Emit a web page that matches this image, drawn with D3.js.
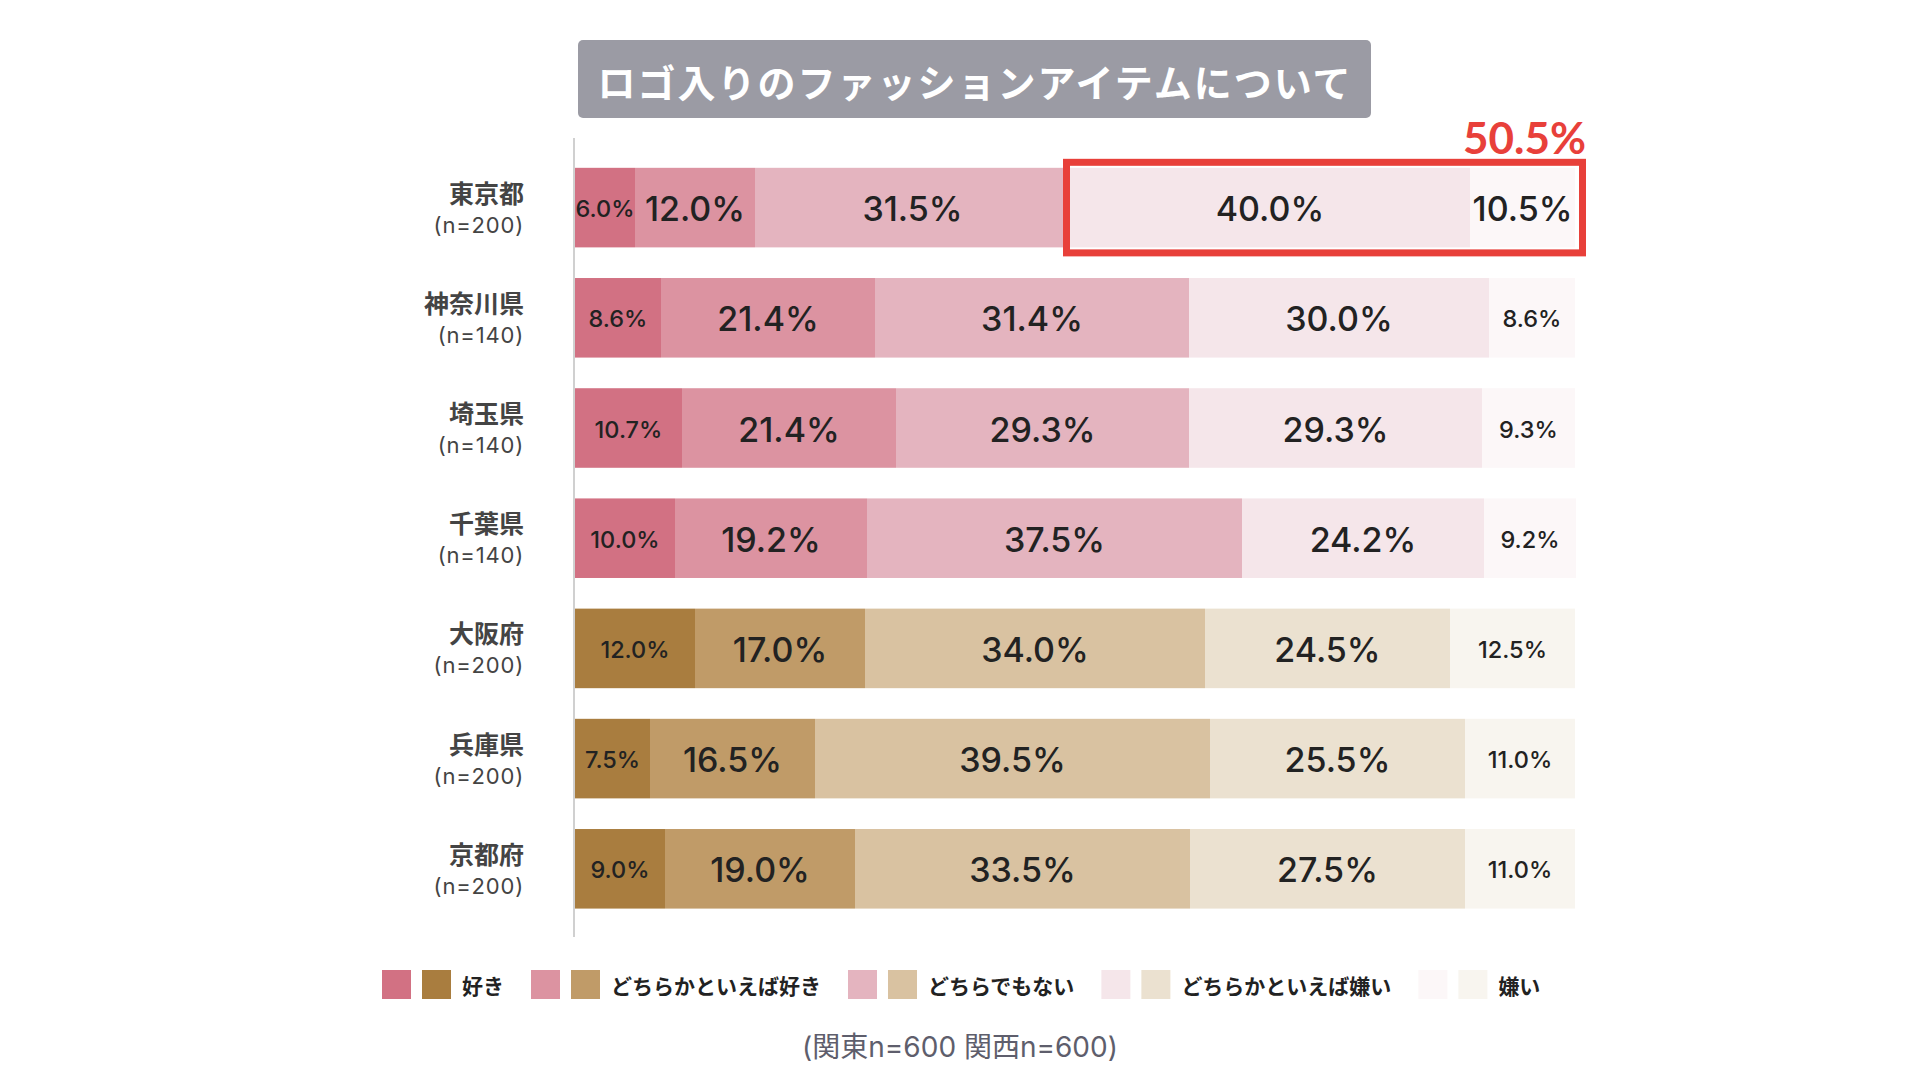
<!DOCTYPE html>
<html><head><meta charset="utf-8">
<script src="https://cdn.jsdelivr.net/npm/d3@7"></script>
<style>
html,body{margin:0;padding:0;background:#fff;}
svg{display:block;}
</style></head>
<body>
<svg id="chart" width="1920" height="1080"></svg>
<script>
// ---- data ----
const title = "ロゴ入りのファッションアイテムについて";
const regions = ["東京都","神奈川県","埼玉県","千葉県","大阪府","兵庫県","京都府"];
const sampleLabels = ["(n=200)","(n=140)","(n=140)","(n=140)","(n=200)","(n=200)","(n=200)"];
const groups = ["kanto","kanto","kanto","kanto","kansai","kansai","kansai"];
const answers = ["好き","どちらかといえば好き","どちらでもない","どちらかといえば嫌い","嫌い"];
const like        = [6.0, 8.6, 10.7, 10.0, 12.0, 7.5, 9.0];
const ratherLike  = [12.0, 21.4, 21.4, 19.2, 17.0, 16.5, 19.0];
const neutral     = [31.5, 31.4, 29.3, 37.5, 34.0, 39.5, 33.5];
const ratherDislike=[40.0, 30.0, 29.3, 24.2, 24.5, 25.5, 27.5];
const dislike     = [10.5, 8.6, 9.3, 9.2, 12.5, 11.0, 11.0];
const highlightRegion = "東京都";
const highlightValue = "50.5%";
const footnote = "(関東n=600 関西n=600)";

const kantoColors  = ["#d27183","#dc93a1","#e4b4bf","#f5e6ea","#fcf7f8"];
const kansaiColors = ["#a97d3f","#c09b68","#d9c2a1","#ebe1d0","#f8f5ef"];

const series = [like, ratherLike, neutral, ratherDislike, dislike];

// ---- layout ----
const svg = d3.select("#chart");
const numFont = "Inter, 'Noto Sans', sans-serif";
const jpFont = "'Noto Sans CJK JP', sans-serif";
const mixFont = "Inter, 'Noto Sans CJK JP', sans-serif";

const x = d3.scaleLinear().domain([0,100]).range([575,1575]);
const y = d3.scaleBand().domain(regions).range([152.5, 923.9]).paddingInner(0.278).paddingOuter(0.139);

// title
const tg = svg.append("g");
tg.append("rect").attr("x",578).attr("y",40).attr("width",793).attr("height",78).attr("rx",5).attr("fill","#9b9ba4");
tg.append("text").attr("x",975).attr("y",80).attr("text-anchor","middle").attr("dominant-baseline","central")
  .attr("font-family",jpFont).attr("font-weight",700).attr("font-size",38).attr("letter-spacing",2)
  .attr("fill","#fff").text(title);

// axis line
svg.append("line").attr("x1",574).attr("x2",574).attr("y1",138).attr("y2",937)
  .attr("stroke","#d0d0d0").attr("stroke-width",2);

// rows
const rows = regions.map((r,i)=>{
  let acc = 0;
  const segs = series.map((s,k)=>{ const v=s[i]; const d={region:r,k,v,x0:acc,x1:acc+v,group:groups[i]}; acc+=v; return d;});
  return {region:r, n:sampleLabels[i], group:groups[i], segs};
});

const rowG = svg.selectAll("g.row").data(rows).join("g").attr("class","row");

rowG.selectAll("rect.seg").data(d=>d.segs).join("rect").attr("class","seg")
  .attr("x",d=>x(d.x0)).attr("width",d=>x(d.x1)-x(d.x0))
  .attr("y",d=>y(d.region)).attr("height",y.bandwidth())
  .attr("fill",d=>(d.group==="kanto"?kantoColors:kansaiColors)[d.k]);

function labelSize(d){
  if (d.region===highlightRegion && d.k===4) return 34;
  if (d.k===0 || d.k===4) return (x(d.x1)-x(d.x0) < 60) ? 18.5 : 23.5;
  return 34;
}
rowG.selectAll("text.val").data(d=>d.segs).join("text").attr("class","val")
  .attr("x",d=>(x(d.x0)+x(d.x1))/2).attr("y",d=>y(d.region)+y.bandwidth()/2+1)
  .attr("text-anchor","middle").attr("dominant-baseline","central")
  .attr("font-family",numFont).attr("font-weight",500).attr("font-size",labelSize).attr("fill","#222")
  .text(d=>d.v.toFixed(1)+"%");

// category labels
rowG.append("text").attr("x",524).attr("y",d=>y(d.region)+y.bandwidth()/2-16)
  .attr("text-anchor","end").attr("dominant-baseline","central")
  .attr("font-family",jpFont).attr("font-weight",700).attr("font-size",25).attr("fill","#444")
  .text(d=>d.region);
rowG.append("text").attr("x",524).attr("y",d=>y(d.region)+y.bandwidth()/2+17)
  .attr("text-anchor","end").attr("dominant-baseline","central")
  .attr("font-family",numFont).attr("font-size",22).attr("letter-spacing",0.8).attr("fill","#444")
  .text(d=>d.n);

// highlight box
const hx0 = x(like[0]+ratherLike[0]+neutral[0]) - 7;
const hx1 = x(100) + 11;
const hy0 = y(highlightRegion) - 9, hy1 = y(highlightRegion)+y.bandwidth()+9;
svg.append("rect").attr("x",hx0+3.5).attr("y",hy0+3.5).attr("width",hx1-hx0-7).attr("height",hy1-hy0-7)
  .attr("fill","none").attr("stroke","#e8403a").attr("stroke-width",7);
svg.append("text").attr("x",hx1).attr("y",hy0-5).attr("text-anchor","end")
  .attr("font-family","Lato, sans-serif").attr("font-weight",700).attr("font-size",44).attr("fill","#e8403a")
  .text(highlightValue);

// legend
const lg = svg.append("g");
let lx = 382;
answers.forEach((a,k)=>{
  lg.append("rect").attr("x",lx).attr("y",970).attr("width",29).attr("height",29).attr("fill",kantoColors[k]);
  lg.append("rect").attr("x",lx+40).attr("y",970).attr("width",29).attr("height",29).attr("fill",kansaiColors[k]);
  const t = lg.append("text").attr("x",lx+80).attr("y",985).attr("dominant-baseline","central")
    .attr("font-family",jpFont).attr("font-weight",700).attr("font-size",21).attr("fill","#222").text(a);
  lx = lx + 80 + t.node().getComputedTextLength() + 27;
});

// footnote
svg.append("text").attr("x",960).attr("y",1047).attr("text-anchor","middle").attr("dominant-baseline","central")
  .attr("font-family",mixFont).attr("font-size",28).attr("fill","#5e5e6c").text(footnote);
</script>
</body></html>
